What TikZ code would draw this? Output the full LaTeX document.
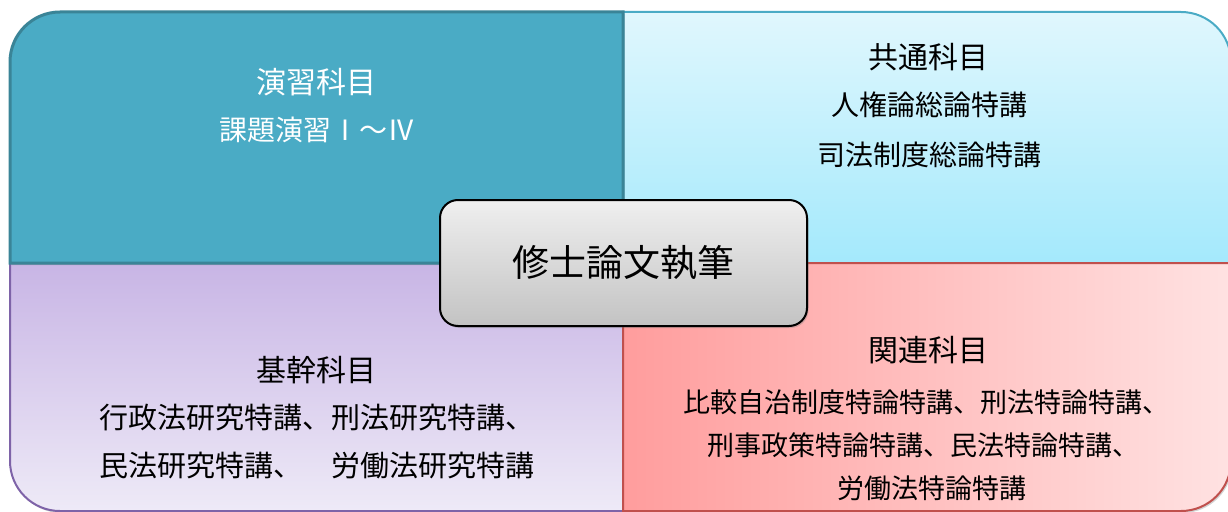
\documentclass[tikz,border=0pt]{standalone}
\usepackage{fontspec}
\setmainfont{Noto Sans CJK JP}
\usetikzlibrary{shadows}
\definecolor{tealF}{HTML}{4AABC5}
\definecolor{tealD}{HTML}{3A8497}
\definecolor{cyanT}{HTML}{E0F7FD}
\definecolor{cyanB}{HTML}{A4E9FC}
\definecolor{lavT}{HTML}{C8B5E5}
\definecolor{lavB}{HTML}{EEEAF7}
\definecolor{lavD}{HTML}{7E63A8}
\definecolor{pinkL}{HTML}{FF9D9D}
\definecolor{pinkR}{HTML}{FFE2E2}
\definecolor{redD}{HTML}{C0504D}
\definecolor{grayT}{HTML}{EFEFEF}
\definecolor{grayB}{HTML}{C3C3C3}
\tikzset{
  shad/.style={drop shadow={opacity=0.35, shadow xshift=1.5pt, shadow yshift=-2pt}},
  qtl/.style={shad, fill=tealF, draw=tealD, line width=3pt},
  qtr/.style={shad, top color=cyanT, bottom color=cyanB, draw=tealF, line width=2pt},
  qbl/.style={shad, top color=lavT, bottom color=lavB, draw=lavD, line width=2pt},
  qbr/.style={shad, left color=pinkL, right color=pinkR, draw=redD, line width=2pt},
  ttl/.style={inner sep=0pt, font=\fontsize{30}{36}\selectfont},
  txt/.style={inner sep=0pt, font=\fontsize{28}{34}\selectfont},
  centerbox/.style={shad, rounded corners=18pt, draw=black, line width=2pt,
    top color=grayT, bottom color=grayB, minimum width=367pt, minimum height=126pt,
    font=\fontsize{37}{44}\selectfont}
}
\begin{document}
\begin{tikzpicture}[x=1pt,y=-1pt]
\useasboundingbox (0,0) rectangle (1228,511);
% quadrants
\path[qtr] (623,12) -- (1181,12) arc[start angle=270,end angle=360,radius=50] -- (1231,263) -- (623,263) -- cycle;
\path[qbl] (10,263) -- (10,461) arc[start angle=180,end angle=90,radius=50] -- (623,511) -- (623,263) -- cycle;
\path[qbr] (623,263) -- (1231,263) -- (1231,461) arc[start angle=0,end angle=90,radius=50] -- (623,511) -- cycle;
\path[qtl] (623,263) -- (10,263) -- (10,62) arc[start angle=180,end angle=270,radius=50] -- (623,12) -- cycle;
% texts
\node[ttl, text=white] (t1) at (316,82) {演習科目};
\node[txt, text=white] (t1a) at (317,130) {課題演習Ⅰ～Ⅳ};
\node[ttl] (t2) at (928,57) {共通科目};
\node[txt] (t2a) at (929,105) {人権論総論特講};
\node[txt] (t2b) at (929,155) {司法制度総論特講};
\node[ttl] (t3) at (316,370) {基幹科目};
\node[txt, anchor=west, font=\fontsize{29}{34}\selectfont] (t3a) at (99,418) {行政法研究特講、刑法研究特講、};
\node[txt, anchor=west, font=\fontsize{29}{34}\selectfont] (t3b) at (99,466) {民法研究特講、　労働法研究特講};
\node[ttl] (t4) at (928,350) {関連科目};
\node[txt, font=\fontsize{27}{33}\selectfont] (t4a) at (926,402) {比較自治制度特論特講、刑法特論特講、};
\node[txt, font=\fontsize{27}{33}\selectfont] (t4b) at (923,445) {刑事政策特論特講、民法特論特講、};
\node[txt, font=\fontsize{27}{33}\selectfont] (t4c) at (932,488) {労働法特論特講};
% center
\node[centerbox] (c) at (623.5,263) {修士論文執筆};
\end{tikzpicture}
\end{document}
